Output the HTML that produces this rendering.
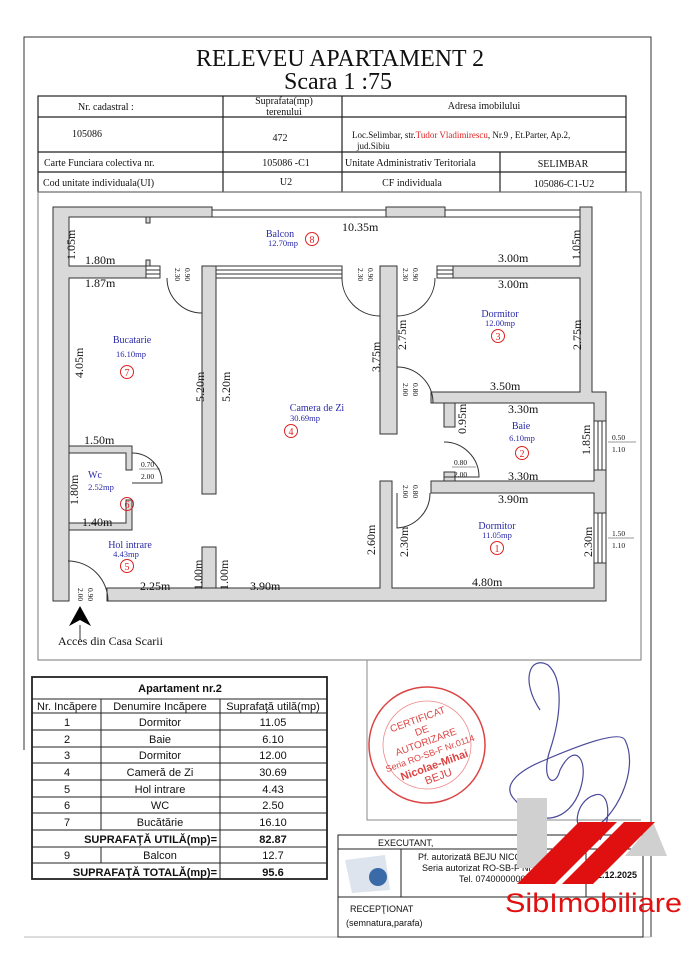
<!DOCTYPE html>
<html><head><meta charset="utf-8"><style>
html,body{margin:0;padding:0;background:#fff;}
svg{display:block}
.s{font-family:"Liberation Serif",serif;fill:#111}
.a{font-family:"Liberation Sans",sans-serif;fill:#111}
.b{font-family:"Liberation Serif",serif;fill:#2a2aa8}
.w{fill:#d9d9d9;stroke:#333;stroke-width:1}
.l{stroke:#333;stroke-width:1;fill:none}
.c{fill:none;stroke:#d22;stroke-width:1}
.n{font-family:"Liberation Serif",serif;fill:#d22;font-size:10px}
</style></head><body>
<svg width="699" height="960" viewBox="0 0 699 960" xmlns="http://www.w3.org/2000/svg">
<rect width="699" height="960" fill="#fff"/>
<path d="M24,750 V37 H651 V937" class="l" stroke="#555"/>
<line x1="24" y1="937" x2="651" y2="937" stroke="#bbb"/>
<text x="340" y="66" class="s" font-size="24" text-anchor="middle" textLength="288" lengthAdjust="spacingAndGlyphs">RELEVEU APARTAMENT 2</text>
<text x="338" y="89" class="s" font-size="24" text-anchor="middle">Scara   1 :75</text>
<g stroke="#222" stroke-width="1.2" fill="none">
<rect x="38" y="96" width="588" height="96"/>
<line x1="38" y1="117" x2="626" y2="117"/>
<line x1="38" y1="152" x2="626" y2="152"/>
<line x1="38" y1="172" x2="626" y2="172"/>
<line x1="223" y1="96" x2="223" y2="192"/>
<line x1="342" y1="96" x2="342" y2="192"/>
<line x1="500" y1="152" x2="500" y2="192"/>
</g>
<g class="s" font-size="10">
<text x="78" y="110">Nr. cadastral :</text>
<text x="284" y="104" text-anchor="middle">Suprafata(mp)</text>
<text x="284" y="115" text-anchor="middle">terenului</text>
<text x="484" y="109" text-anchor="middle">Adresa imobilului</text>
<text x="72" y="137">105086</text>
<text x="280" y="141" text-anchor="middle">472</text>
<text x="352" y="138" font-size="9">Loc.Selimbar, str.<tspan fill="#d22">Tudor Vladimirescu</tspan>, Nr.9 , Et.Parter,  Ap.2,</text>
<text x="357" y="149" font-size="9">jud.Sibiu</text>
<text x="44" y="166">Carte Funciara colectiva nr.</text>
<text x="286" y="166" text-anchor="middle">105086 -C1</text>
<text x="345" y="166">Unitate Administrativ Teritoriala</text>
<text x="563" y="167" text-anchor="middle">SELIMBAR</text>
<text x="43" y="186">Cod unitate individuala(UI)</text>
<text x="286" y="185" text-anchor="middle">U2</text>
<text x="412" y="186" text-anchor="middle">CF individuala</text>
<text x="564" y="187" text-anchor="middle">105086-C1-U2</text>
</g>
<rect x="38" y="192" width="603" height="468" fill="none" stroke="#777"/>
<g>
<path class="w" d="M53,207 H212 V217 H69 V266 H146 V278 H69 V601 H53 Z"/>
<rect x="212" y="210" width="174" height="7" fill="#fff" stroke="#333"/>
<rect class="w" x="386" y="207" width="59" height="10"/>
<rect x="445" y="210" width="135" height="7" fill="#fff" stroke="#333"/>
<path class="w" d="M580,207 H592 V392 H606 V601 H107 V588 H380 V481 H392 V588 H594 V493 H431 V481 H594 V403 H431 V392 H580 V278 H453 V266 H580 Z"/>
<rect class="w" x="202" y="266" width="14" height="228"/>
<rect x="216" y="266" width="126" height="12" fill="#fff" stroke="#333"/>
<line x1="216" y1="270" x2="342" y2="270" stroke="#333"/>
<line x1="216" y1="274" x2="342" y2="274" stroke="#333"/>
<rect class="w" x="380" y="266" width="17" height="168"/>
<rect x="146" y="266" width="14" height="12" fill="#fff" stroke="#333"/>
<line x1="146" y1="270" x2="160" y2="270" stroke="#333"/><line x1="146" y1="274" x2="160" y2="274" stroke="#333"/>
<rect x="437" y="266" width="16" height="12" fill="#fff" stroke="#333"/>
<line x1="437" y1="270" x2="453" y2="270" stroke="#333"/><line x1="437" y1="274" x2="453" y2="274" stroke="#333"/>
<rect class="w" x="444" y="403" width="11" height="24"/>
<rect class="w" x="444" y="472" width="11" height="9"/>
<rect x="594" y="421" width="12" height="49" fill="#fff" stroke="#333"/>
<line x1="598" y1="421" x2="598" y2="470" stroke="#333"/><line x1="602" y1="421" x2="602" y2="470" stroke="#333"/>
<rect x="594" y="513" width="12" height="50" fill="#fff" stroke="#333"/>
<line x1="598" y1="513" x2="598" y2="563" stroke="#333"/><line x1="602" y1="513" x2="602" y2="563" stroke="#333"/>
<path class="w" d="M69,446 H132 V470 H126 V453 H69 Z"/>
<path class="w" d="M69,523 H126 V500 H132 V530 H69 Z"/>
<rect class="w" x="202" y="547" width="14" height="41"/>
<rect class="w" x="146" y="217" width="4" height="6"/>
<rect class="w" x="146" y="260" width="4" height="6"/>
</g>
<g class="l">
<path d="M167,278 A35,35 0 0 0 202,313"/>
<path d="M342,278 A38,38 0 0 0 380,316"/>
<path d="M435,278 A38,38 0 0 1 397,316"/>
<path d="M397,367 A36,36 0 0 1 433,403"/>
<path d="M444,442 A35,35 0 0 1 479,477 H444"/>
<path d="M430,493 A35,35 0 0 1 397,528 V493"/>
<path d="M132,453 A30,30 0 0 1 162,483 H132"/>
<path d="M68,561 A40,40 0 0 1 108,601"/>
<line x1="80" y1="625" x2="80" y2="640"/>
</g>
<path d="M80,606 L69,626 L80,620 L91,626 Z" fill="#000"/>
<g class="s" font-size="12">
<text x="342" y="231">10.35m</text>
<text x="85" y="264">1.80m</text>
<text x="85" y="287">1.87m</text>
<text x="498" y="262">3.00m</text>
<text x="498" y="288">3.00m</text>
<text x="490" y="390">3.50m</text>
<text x="508" y="413">3.30m</text>
<text x="508" y="480">3.30m</text>
<text x="498" y="503">3.90m</text>
<text x="472" y="586">4.80m</text>
<text x="250" y="590">3.90m</text>
<text x="140" y="590">2.25m</text>
<text x="84" y="444">1.50m</text>
<text x="82" y="526">1.40m</text>
<text x="58" y="645">Acces din Casa Scarii</text>
<g transform="rotate(-90)">
<text x="-260" y="75">1.05m</text>
<text x="-260" y="580">1.05m</text>
<text x="-378" y="83">4.05m</text>
<text x="-402" y="204">5.20m</text>
<text x="-402" y="230">5.20m</text>
<text x="-372" y="380">3.75m</text>
<text x="-350" y="406">2.75m</text>
<text x="-350" y="581">2.75m</text>
<text x="-434" y="466">0.95m</text>
<text x="-455" y="590">1.85m</text>
<text x="-555" y="375">2.60m</text>
<text x="-557" y="408">2.30m</text>
<text x="-557" y="592">2.30m</text>
<text x="-505" y="78">1.80m</text>
<text x="-590" y="202">1.00m</text>
<text x="-590" y="228">1.00m</text>
</g>
</g>
<g class="s" font-size="7.5">
<g transform="rotate(90)">
<text x="268" y="-185">0.90</text><text x="268" y="-175">2.30</text>
<text x="268" y="-368">0.90</text><text x="268" y="-358">2.30</text>
<text x="268" y="-413">0.90</text><text x="268" y="-403">2.30</text>
<text x="383" y="-413">0.80</text><text x="383" y="-403">2.00</text>
<text x="485" y="-413">0.80</text><text x="485" y="-403">2.00</text>
<text x="588" y="-88">0.90</text><text x="588" y="-78">2.00</text>
</g>
<text x="454" y="465">0.80</text><text x="454" y="477">2.00</text>
<line x1="452" y1="467" x2="476" y2="467" stroke="#333" stroke-width=".6"/>
<text x="141" y="467">0.70</text><text x="141" y="479">2.00</text>
<line x1="139" y1="469" x2="160" y2="469" stroke="#333" stroke-width=".6"/>
<text x="612" y="440">0.50</text><text x="612" y="452">1.10</text>
<line x1="608" y1="442" x2="636" y2="442" stroke="#333" stroke-width=".6"/>
<text x="612" y="536">1.50</text><text x="612" y="548">1.10</text>
<line x1="608" y1="538" x2="634" y2="538" stroke="#333" stroke-width=".6"/>
</g>
<g class="b" font-size="10" text-anchor="middle">
<text x="132" y="343">Bucatarie</text><text x="131" y="357" font-size="8.5">16.10mp</text>
<text x="280" y="237">Balcon</text><text x="283" y="246" font-size="8.5">12.70mp</text>
<text x="500" y="317">Dormitor</text><text x="500" y="326" font-size="8.5">12.00mp</text>
<text x="521" y="429">Baie</text><text x="522" y="441" font-size="8.5">6.10mp</text>
<text x="497" y="529">Dormitor</text><text x="497" y="538" font-size="8.5">11.05mp</text>
<text x="317" y="411">Camera de Zi</text><text x="305" y="421" font-size="8.5">30.69mp</text>
<text x="95" y="478">Wc</text><text x="101" y="490" font-size="8.5">2.52mp</text>
<text x="130" y="548">Hol intrare</text><text x="126" y="557" font-size="8.5">4.43mp</text>
</g>
<g>
<circle class="c" cx="127" cy="372" r="6.5"/><text class="n" x="127" y="376" text-anchor="middle">7</text>
<circle class="c" cx="312" cy="239" r="6.5"/><text class="n" x="312" y="243" text-anchor="middle">8</text>
<circle class="c" cx="498" cy="336" r="6.5"/><text class="n" x="498" y="340" text-anchor="middle">3</text>
<circle class="c" cx="522" cy="453" r="6.5"/><text class="n" x="522" y="457" text-anchor="middle">2</text>
<circle class="c" cx="497" cy="548" r="6.5"/><text class="n" x="497" y="552" text-anchor="middle">1</text>
<circle class="c" cx="291" cy="431" r="6.5"/><text class="n" x="291" y="435" text-anchor="middle">4</text>
<circle class="c" cx="127" cy="504" r="6.5"/><text class="n" x="127" y="508" text-anchor="middle">6</text>
<circle class="c" cx="127" cy="566" r="6.5"/><text class="n" x="127" y="570" text-anchor="middle">5</text>
</g>
<g stroke="#222" fill="none">
<rect x="32" y="677" width="295" height="202" stroke-width="1.8"/>
<line x1="32" y1="699" x2="327" y2="699"/>
<line x1="32" y1="713" x2="327" y2="713"/>
<line x1="32" y1="730" x2="327" y2="730"/><line x1="32" y1="747" x2="327" y2="747"/>
<line x1="32" y1="763" x2="327" y2="763"/><line x1="32" y1="780" x2="327" y2="780"/>
<line x1="32" y1="797" x2="327" y2="797"/><line x1="32" y1="813" x2="327" y2="813"/>
<line x1="32" y1="830" x2="327" y2="830"/><line x1="32" y1="847" x2="327" y2="847"/>
<line x1="32" y1="863" x2="327" y2="863"/>
<line x1="101" y1="699" x2="101" y2="830"/><line x1="101" y1="847" x2="101" y2="863"/>
<line x1="220" y1="699" x2="220" y2="879"/>
</g>
<g class="a" font-size="11" text-anchor="middle">
<text x="180" y="692" font-weight="bold">Apartament nr.2</text>
<text x="67" y="710">Nr. Incăpere</text><text x="160" y="710">Denumire Incăpere</text><text x="273" y="710">Suprafaţă utilă(mp)</text>
<text x="67" y="726">1</text><text x="160" y="726">Dormitor</text><text x="273" y="726">11.05</text>
<text x="67" y="743">2</text><text x="160" y="743">Baie</text><text x="273" y="743">6.10</text>
<text x="67" y="759">3</text><text x="160" y="759">Dormitor</text><text x="273" y="759">12.00</text>
<text x="67" y="776">4</text><text x="160" y="776">Cameră  de Zi</text><text x="273" y="776">30.69</text>
<text x="67" y="793">5</text><text x="160" y="793">Hol intrare</text><text x="273" y="793">4.43</text>
<text x="67" y="809">6</text><text x="160" y="809">WC</text><text x="273" y="809">2.50</text>
<text x="67" y="826">7</text><text x="160" y="826">Bucătărie</text><text x="273" y="826">16.10</text>
<text x="217" y="843" text-anchor="end" font-weight="bold">SUPRAFAŢĂ UTILĂ(mp)=</text><text x="273" y="843" font-weight="bold">82.87</text>
<text x="67" y="859">9</text><text x="160" y="859">Balcon</text><text x="273" y="859">12.7</text>
<text x="217" y="876" text-anchor="end" font-weight="bold">SUPRAFAŢĂ TOTALĂ(mp)=</text><text x="273" y="876" font-weight="bold">95.6</text>
</g>
<path d="M367,660 V820 H641" fill="none" stroke="#888"/>
<g transform="translate(427,745) rotate(-20)">
<circle r="58" fill="none" stroke="#d44" stroke-width="1.5"/>
<circle r="44" fill="none" stroke="#e88" stroke-width=".8"/>
<g font-family="Liberation Sans,sans-serif" fill="#d44" text-anchor="middle">
<text y="-24" font-size="10">CERTIFICAT</text>
<text y="-12" font-size="10">DE</text>
<text y="0" font-size="10">AUTORIZARE</text>
<text y="12" font-size="9">Seria RO-SB-F Nr.0114</text>
<text y="25" font-size="11" font-weight="bold">Nicolae-Mihai</text>
<text y="37" font-size="11">BEJU</text>
</g>
</g>
<path d="M540,710 C520,680 530,655 548,665 C565,680 560,720 550,750 C540,780 555,790 560,770 C575,740 590,760 580,790 C570,820 540,830 515,800 C500,785 520,770 545,760 C580,745 620,730 625,740 C640,770 615,820 590,830 C570,835 575,800 595,795 C610,790 612,820 600,840" fill="none" stroke="#4a4a9a" stroke-width="1.2"/>
<g stroke="#222" fill="none">
<rect x="338" y="835" width="305" height="102"/>
<line x1="338" y1="849" x2="643" y2="849"/>
<line x1="338" y1="897" x2="643" y2="897"/>
<line x1="401" y1="849" x2="401" y2="897"/>
<line x1="586" y1="849" x2="586" y2="897"/>
</g>
<g class="a" font-size="9">
<text x="378" y="846">EXECUTANT,</text>
<text x="418" y="860">Pf. autorizată  BEJU NICOLAE MIHAI</text>
<text x="422" y="871">Seria autorizat RO-SB-F Nr.0114</text>
<text x="459" y="882">Tel. 0740000000</text>
<text x="592" y="878" font-weight="bold">12.12.2025</text>
<text x="350" y="912">RECEPŢIONAT</text>
<text x="346" y="926">(semnatura,parafa)</text>
</g>
<path d="M345,860 L385,855 L390,890 L352,893 Z" fill="#dde4ee"/>
<circle cx="378" cy="877" r="9" fill="#3a6aa8"/>
<rect x="517" y="798" width="30" height="70" fill="#d0d0d0"/>
<polygon points="653,822 667,856 625,856" fill="#d0d0d0"/>
<polygon points="517,884 579,822 617,822 555,884" fill="#e01010"/>
<polygon points="562,884 624,822 655,822 593,884" fill="#e01010"/>
<text x="505" y="912" font-family="Liberation Sans,sans-serif" font-size="27" fill="#e01010" textLength="177" lengthAdjust="spacingAndGlyphs">SibImobiliare</text>
</svg>
</body></html>
